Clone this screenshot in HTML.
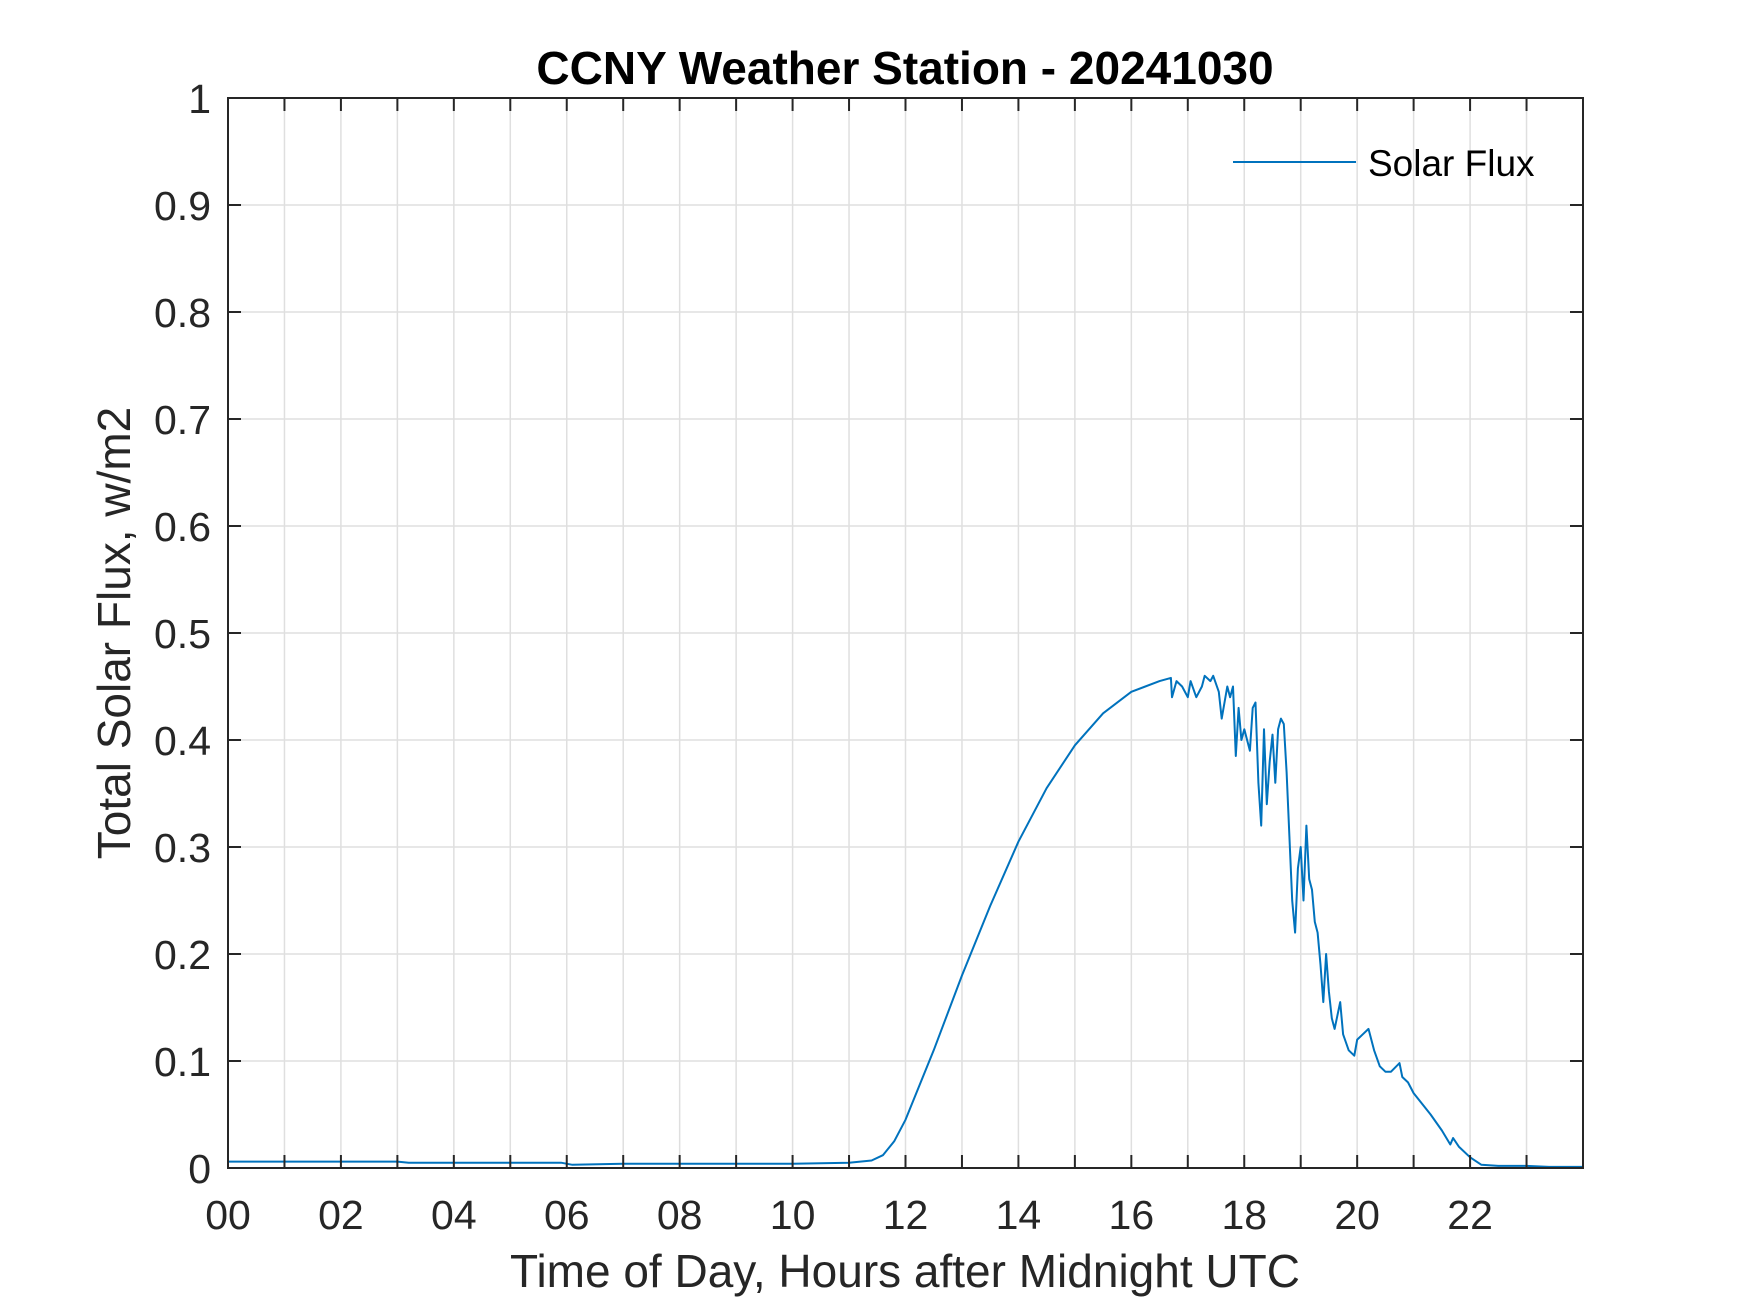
<!DOCTYPE html>
<html><head><meta charset="utf-8"><style>
html,body{margin:0;padding:0;background:#fff;}
svg{display:block;font-family:"Liberation Sans",Arial,sans-serif;}
</style></head><body>
<svg id="chart" width="1750" height="1313" viewBox="0 0 1750 1313" xmlns="http://www.w3.org/2000/svg">
<rect width="1750" height="1313" fill="#fff"/>
<g id="grid"></g>
<g id="series"></g>
<g id="axes"></g>
<text x="905" y="84" text-anchor="middle" font-size="46" font-weight="bold" fill="#000">CCNY Weather Station - 20241030</text>
<text x="905" y="1287" text-anchor="middle" font-size="46" fill="#262626">Time of Day, Hours after Midnight UTC</text>
<text transform="translate(130,633) rotate(-90)" text-anchor="middle" font-size="46" fill="#262626">Total Solar Flux, w/m2</text>
<g>
<line x1="1233" y1="162" x2="1356" y2="162" stroke="#0072bd" stroke-width="2"/>
<text x="1368" y="176" font-size="37" fill="#000">Solar Flux</text>
</g>
</svg>
<script>
const hours = [0,1,2,3,3.2,4,5,5.9,6.1,7,8,9,10,11,11.4,11.6,11.8,12,12.5,13,13.5,14,14.5,15,15.5,16,16.5,16.7,16.72,16.8,16.9,17,17.05,17.15,17.25,17.3,17.4,17.45,17.55,17.6,17.7,17.75,17.8,17.85,17.9,17.95,18,18.1,18.15,18.2,18.25,18.3,18.35,18.4,18.45,18.5,18.55,18.6,18.65,18.7,18.75,18.8,18.85,18.9,18.95,19,19.05,19.1,19.15,19.2,19.25,19.3,19.35,19.4,19.45,19.5,19.55,19.6,19.7,19.75,19.85,19.95,20,20.1,20.2,20.3,20.4,20.5,20.6,20.75,20.8,20.9,21,21.3,21.5,21.65,21.7,21.8,22,22.2,22.5,23,23.4,24];
const flux = [0.006,0.006,0.006,0.006,0.005,0.005,0.005,0.005,0.003,0.004,0.004,0.004,0.004,0.005,0.007,0.012,0.025,0.045,0.11,0.18,0.245,0.305,0.355,0.395,0.425,0.445,0.455,0.458,0.44,0.455,0.45,0.44,0.455,0.44,0.45,0.46,0.455,0.46,0.445,0.42,0.45,0.44,0.45,0.385,0.43,0.4,0.41,0.39,0.43,0.435,0.36,0.32,0.41,0.34,0.38,0.405,0.36,0.41,0.42,0.415,0.37,0.31,0.25,0.22,0.28,0.3,0.25,0.32,0.27,0.26,0.23,0.22,0.19,0.155,0.2,0.165,0.14,0.13,0.155,0.125,0.11,0.105,0.12,0.125,0.13,0.11,0.095,0.09,0.09,0.098,0.085,0.08,0.07,0.05,0.035,0.022,0.028,0.02,0.01,0.003,0.002,0.002,0.001,0.001];
const xTickLabels = ["00","02","04","06","08","10","12","14","16","18","20","22"];
const yTickLabels = ["0","0.1","0.2","0.3","0.4","0.5","0.6","0.7","0.8","0.9","1"];

const L=228,R=1583,T=98,B=1168;
const xs = h => L + (h/24)*(R-L);
const ys = v => B - v*(B-T);
const NS="http://www.w3.org/2000/svg";
function mk(tag, attrs, parent){const e=document.createElementNS(NS,tag);for(const k in attrs)e.setAttribute(k,attrs[k]);parent.appendChild(e);return e;}
const grid=document.getElementById('grid'), axes=document.getElementById('axes'), series=document.getElementById('series');

for(let h=1;h<24;h++){
  const g=mk('line',{x1:xs(h),x2:xs(h),y1:T,y2:B,stroke:'#dfdfdf','stroke-width':1.5},grid);
  
  
}
for(let i=1;i<yTickLabels.length-1;i++){
  const v=parseFloat(yTickLabels[i]);
  const g=mk('line',{x1:L,x2:R,y1:ys(v),y2:ys(v),stroke:'#dfdfdf','stroke-width':1.5},grid);
  
  
}
const pts=hours.map((h,i)=>xs(h).toFixed(1)+','+ys(flux[i]).toFixed(1)).join(' ');
const pl=mk('polyline',{points:pts,fill:'none',stroke:'#0072bd','stroke-width':2,'stroke-linejoin':'round'},series);



const box=mk('rect',{x:L,y:T,width:R-L,height:B-T,fill:'none',stroke:'#262626','stroke-width':2},axes);


for(let h=1;h<24;h++){
  const t1=mk('line',{x1:xs(h),x2:xs(h),y1:B,y2:B-13,stroke:'#262626','stroke-width':2},axes);
  
  
  const t2=mk('line',{x1:xs(h),x2:xs(h),y1:T,y2:T+13,stroke:'#262626','stroke-width':2},axes);
  
  
}
xTickLabels.forEach((lab,i)=>{
  const t=mk('text',{x:xs(i*2),y:1229,'text-anchor':'middle','font-size':41,fill:'#262626'},axes);
  t.textContent=lab;
  
  
});
yTickLabels.forEach(lab=>{
  const v=parseFloat(lab);
  const a=mk('line',{x1:L,x2:L+13,y1:ys(v),y2:ys(v),stroke:'#262626','stroke-width':2},axes);
  
  
  const b=mk('line',{x1:R,x2:R-13,y1:ys(v),y2:ys(v),stroke:'#262626','stroke-width':2},axes);
  
  
  const t=mk('text',{x:211,y:ys(v)+15,'text-anchor':'end','font-size':41,fill:'#262626'},axes);
  t.textContent=lab;
  
  
});
</script>
</body></html>
